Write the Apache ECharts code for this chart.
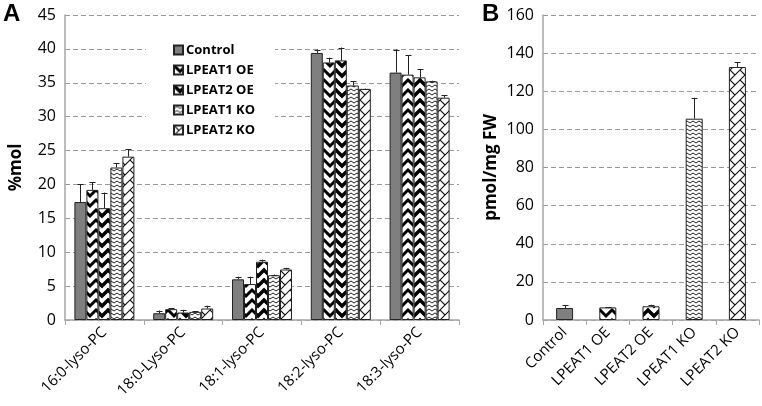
<!DOCTYPE html>
<html>
<head>
<meta charset="utf-8">
<script src="https://cdn.jsdelivr.net/npm/echarts@6/dist/echarts.min.js"></script>
<style>html,body{margin:0;padding:0;background:#fff;}#c{width:762px;height:406px;}</style>
</head>
<body>
<div id="c"></div>
<script>
// ---- data ----
var categoriesA = ['16:0-lyso-PC', '18:0-Lyso-PC', '18:1-lyso-PC', '18:2-lyso-PC', '18:3-lyso-PC'];
var seriesNames = ['Control', 'LPEAT1 OE', 'LPEAT2 OE', 'LPEAT1 KO', 'LPEAT2 KO'];
var controlA   = [17.4, 1.0, 6.0, 39.4, 36.5];
var controlErrA = [2.6, 0.4, 0.4, 0.5, 3.4];
var lpeat1OeA  = [19.2, 1.6, 5.3, 38.0, 36.2];
var lpeat1OeErrA = [1.1, 0.1, 1.1, 0.7, 2.9];
var lpeat2OeA  = [16.5, 1.1, 8.6, 38.3, 35.8];
var lpeat2OeErrA = [2.3, 0.4, 0.3, 1.9, 1.2];
var lpeat1KoA  = [22.5, 1.2, 6.6, 34.6, 35.2];
var lpeat1KoErrA = [0.6, 0.1, 0.1, 0.6, 0.1];
var lpeat2KoA  = [24.1, 1.7, 7.45, 34.1, 32.8];
var lpeat2KoErrA = [1.1, 0.4, 0.25, 0.05, 0.4];
var categoriesB = ['Control', 'LPEAT1 OE', 'LPEAT2 OE', 'LPEAT1 KO', 'LPEAT2 KO'];
var valuesB = [6.3, 6.6, 7.2, 105.6, 132.7];
var errB    = [1.4, 0.2, 0.8, 11.0, 2.6];
var ticksA = [0, 5, 10, 15, 20, 25, 30, 35, 40, 45];
var ticksB = [0, 20, 40, 60, 80, 100, 120, 140, 160];

// ---- patterns ----
function makePattern(w, h, draw) {
  var c = document.createElement('canvas');
  c.width = w; c.height = h;
  var ctx = c.getContext('2d');
  ctx.fillStyle = '#fff';
  ctx.fillRect(0, 0, w, h);
  draw(ctx, w, h);
  return { image: c, repeat: 'repeat' };
}
function chevron(ctx, w, h, lw) {
  ctx.strokeStyle = '#000';
  ctx.lineWidth = lw;
  ctx.lineJoin = 'miter';
  for (var k = -1; k <= 1; k++) {
    var dy = k * h;
    ctx.beginPath();
    ctx.moveTo(-1, dy - 1);
    ctx.lineTo(w / 2, dy + w / 2);
    ctx.lineTo(w + 1, dy - 1);
    ctx.stroke();
  }
}
var pat1 = makePattern(12, 10, function (ctx, w, h) { chevron(ctx, w, h, 3); });
var pat2 = makePattern(12, 10, function (ctx, w, h) { chevron(ctx, w, h, 3.4); });
var pat3 = makePattern(6, 4, function (ctx, w, h) {
  ctx.strokeStyle = '#222'; ctx.lineWidth = 1;
  ctx.beginPath(); ctx.moveTo(0, 3); ctx.lineTo(3, 1); ctx.lineTo(6, 3); ctx.stroke();
});
var pat4 = makePattern(10, 10, function (ctx, w, h) {
  ctx.strokeStyle = '#111'; ctx.lineWidth = 1.1;
  ctx.beginPath();
  ctx.moveTo(-1, 11); ctx.lineTo(11, -1);
  ctx.moveTo(-1, -1); ctx.lineTo(5, 5);
  ctx.moveTo(5, 15); ctx.lineTo(11, 9);
  ctx.stroke();
});
var fills = ['#7f7f7f', pat1, pat2, pat3, pat4];

var valuesA = [controlA, lpeat1OeA, lpeat2OeA, lpeat1KoA, lpeat2KoA];
var errsA = [controlErrA, lpeat1OeErrA, lpeat2OeErrA, lpeat1KoErrA, lpeat2KoErrA];

var FONT = 'Open Sans';
var BAR_A = 12, BAR_B = 17;

function errRender(offset) {
  return function (params, api) {
    var x = api.value(0), v = api.value(1), e = api.value(2);
    var p0 = api.coord([x, v]);
    var p1 = api.coord([x, v + e]);
    var cx = Math.round(p0[0] + offset) + 0.5;
    var style = { stroke: '#222', lineWidth: 1 };
    return {
      type: 'group',
      children: [
        { type: 'line', shape: { x1: cx, y1: p0[1], x2: cx, y2: p1[1] }, style: style },
        { type: 'line', shape: { x1: cx - 3, y1: Math.round(p1[1]) + 0.5, x2: cx + 3, y2: Math.round(p1[1]) + 0.5 }, style: style }
      ]
    };
  };
}

var series = [];
for (var i = 0; i < 5; i++) {
  series.push({
    name: seriesNames[i], type: 'bar', xAxisIndex: 0, yAxisIndex: 0,
    barWidth: BAR_A, barGap: '0%',
    itemStyle: { color: fills[i], borderColor: '#222', borderWidth: 1 },
    data: valuesA[i], z: 2
  });
}
for (var i = 0; i < 5; i++) {
  var d = [];
  for (var j = 0; j < categoriesA.length; j++) d.push([j, valuesA[i][j], errsA[i][j]]);
  series.push({
    type: 'custom', xAxisIndex: 0, yAxisIndex: 0, z: 3,
    renderItem: errRender(-2 * BAR_A + i * BAR_A),
    data: d, silent: true
  });
}
var dataB = [];
for (var j = 0; j < valuesB.length; j++) {
  dataB.push({ value: valuesB[j], itemStyle: { color: fills[j], borderColor: '#222', borderWidth: 1 } });
}
series.push({ name: 'B', type: 'bar', xAxisIndex: 1, yAxisIndex: 1, barWidth: BAR_B, data: dataB, z: 2 });
var dB = [];
for (var j = 0; j < valuesB.length; j++) dB.push([j, valuesB[j], errB[j]]);
series.push({ type: 'custom', xAxisIndex: 1, yAxisIndex: 1, z: 3, renderItem: errRender(0), data: dB, silent: true });

var axisLabelStyle = { color: '#000', fontFamily: FONT, fontSize: 16 };
var xLabelStyle = { color: '#000', fontFamily: FONT, fontSize: 15 };
var splitLine = { show: true, lineStyle: { color: '#9a9a9a', type: [5, 3], width: 1 } };
var axisLine = { show: true, lineStyle: { color: '#a6a6a6', width: 1.5 } };
var nameStyle = { color: '#000', fontFamily: FONT, fontSize: 17, fontWeight: 'bold' };

var option = {
  animation: false,
  backgroundColor: '#fff',
  grid: [
    { left: 62, right: 303, top: 15, bottom: 86 },
    { left: 543, right: 3, top: 15, bottom: 86 }
  ],
  legend: {
    data: seriesNames,
    orient: 'vertical',
    left: 146, top: 40,
    backgroundColor: '#fff',
    padding: [2, 20, 2, 27],
    itemWidth: 9, itemHeight: 9, itemGap: 4,
    icon: 'rect',
    textStyle: { color: '#000', fontFamily: FONT, fontSize: 13, fontWeight: 'bold', lineHeight: 16, padding: [0, 0, 0, -2] },
    selectedMode: false
  },
  xAxis: [
    { type: 'category', gridIndex: 0, data: categoriesA,
      axisLine: axisLine, axisTick: { show: true, length: 5, lineStyle: { color: '#a6a6a6' } },
      axisLabel: Object.assign({ rotate: 45, margin: 10, interval: 0 }, xLabelStyle) },
    { type: 'category', gridIndex: 1, data: categoriesB,
      axisLine: axisLine, axisTick: { show: true, length: 5, lineStyle: { color: '#a6a6a6' } },
      axisLabel: Object.assign({ rotate: 45, margin: 10, interval: 0 }, xLabelStyle) }
  ],
  yAxis: [
    { type: 'value', gridIndex: 0, min: ticksA[0], max: ticksA[ticksA.length - 1], interval: 5,
      name: '%mol', nameLocation: 'middle', nameGap: 40, nameTextStyle: nameStyle,
      axisLine: axisLine, axisTick: { show: false }, splitLine: splitLine,
      axisLabel: Object.assign({ margin: 9 }, axisLabelStyle) },
    { type: 'value', gridIndex: 1, min: ticksB[0], max: ticksB[ticksB.length - 1], interval: 20,
      name: 'pmol/mg FW', nameLocation: 'middle', nameGap: 43, nameTextStyle: nameStyle,
      axisLine: axisLine, axisTick: { show: false }, splitLine: splitLine,
      axisLabel: Object.assign({ margin: 9 }, axisLabelStyle) }
  ],
  graphic: [
    { type: 'text', left: 3, top: 2, style: { text: 'A', fill: '#000', font: 'bold 24px "Liberation Sans", Arial' } },
    { type: 'text', left: 482, top: 2, style: { text: 'B', fill: '#000', font: 'bold 24px "Liberation Sans", Arial' } }
  ],
  series: series
};
var chart = echarts.init(document.getElementById('c'), null, { renderer: 'canvas' });
chart.setOption(option);
</script>
</body>
</html>
